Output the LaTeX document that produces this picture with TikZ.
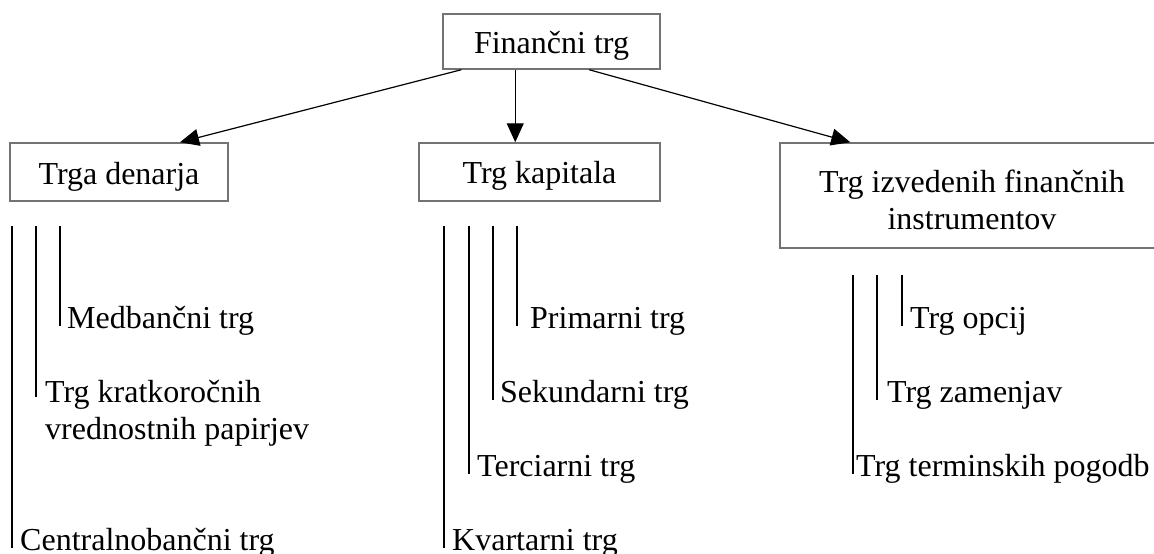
\documentclass[tikz,border=0pt]{standalone}
\usepackage{fontspec}
\setmainfont{Liberation Serif}
\usetikzlibrary{arrows.meta}

\tikzset{
  market/.style={draw=black!55, line width=1.5pt, fill=white, inner sep=0pt,
    font=\fontsize{32}{37}\selectfont, text height=24pt, text depth=0pt},
  branch/.style={draw=black, line width=1.2pt,
    -{Triangle[length=19pt,width=17pt]}},
  leafline/.style={draw=black, line width=1.3pt},
  leaf/.style={inner sep=0pt, font=\fontsize{32}{37}\selectfont, align=left}
}

\begin{document}
\begin{tikzpicture}[x=1pt,y=-1pt]
  \useasboundingbox (0,0) rectangle (1154,554);
  \clip (0,0) rectangle (1154,554);

  % main boxes
  \node[market, minimum width=217pt, minimum height=55pt] (top) at (551.5,41.5) {Finančni trg};
  \node[market, minimum width=218pt, minimum height=58pt] (denar) at (119,172) {Trga denarja};
  \node[market, minimum width=241pt, minimum height=58pt, text height=23pt] (kapital) at (539.5,172) {Trg kapitala};
  \node[market, minimum width=384pt, minimum height=105pt] (izved) at (972,195.5) {};
  \node[inner sep=0pt, font=\fontsize{32}{37}\selectfont, align=center] (izvedtxt) at (972,199.5)
    {Trg izvedenih finančnih\\instrumentov};

  % arrows from the top box
  \draw[branch] ([xshift=19pt]top.south west) -- ([xshift=61pt]denar.north);
  \draw[branch] ([xshift=73pt]top.south west) -- ([xshift=97pt]kapital.north west);
  \draw[branch] ([xshift=147pt]top.south west) -- ([xshift=71pt]izved.north west);

  % money market
  \node[leaf, anchor=base west] (medb) at (67,328) {Medbančni trg};
  \node[leaf, anchor=north west] (kratko) at (45,380) {Trg kratkoročnih\\vrednostnih papirjev};
  \node[leaf, anchor=base west] (central) at (20,550) {Centralnobančni trg};
  \coordinate (d1) at (12,226);
  \coordinate (d2) at (36,226);
  \coordinate (d3) at (60,226);
  \coordinate (d2b) at (36,397);
  \draw[leafline] (d3) -- (d3 |- medb.mid);
  \draw[leafline] (d2) -- (d2b);
  \draw[leafline] (d1) -- (d1 |- central.mid);

  % capital market
  \node[leaf, anchor=base west] (prim) at (530,328) {Primarni trg};
  \node[leaf, anchor=base west] (sek) at (500,402) {Sekundarni trg};
  \node[leaf, anchor=base west] (terc) at (477,476) {Terciarni trg};
  \node[leaf, anchor=base west] (kvart) at (452,550) {Kvartarni trg};
  \coordinate (k1) at (444,226);
  \coordinate (k2) at (469,226);
  \coordinate (k3) at (493,226);
  \coordinate (k4) at (517,226);
  \draw[leafline] (k4) -- (k4 |- prim.mid);
  \draw[leafline] (k3) -- (k3 |- sek.mid);
  \draw[leafline] (k2) -- (k2 |- terc.mid);
  \draw[leafline] (k1) -- (k1 |- kvart.mid);

  % derivatives market
  \node[leaf, anchor=base west] (opc) at (910,328) {Trg opcij};
  \node[leaf, anchor=base west] (zam) at (887,402) {Trg zamenjav};
  \node[leaf, anchor=base west] (term) at (856,476) {Trg terminskih pogodb};
  \coordinate (i1) at (853,275);
  \coordinate (i2) at (877,275);
  \coordinate (i3) at (902,275);
  \draw[leafline] (i3) -- (i3 |- opc.mid);
  \draw[leafline] (i2) -- (i2 |- zam.mid);
  \draw[leafline] (i1) -- (i1 |- term.mid);
\end{tikzpicture}
\end{document}
